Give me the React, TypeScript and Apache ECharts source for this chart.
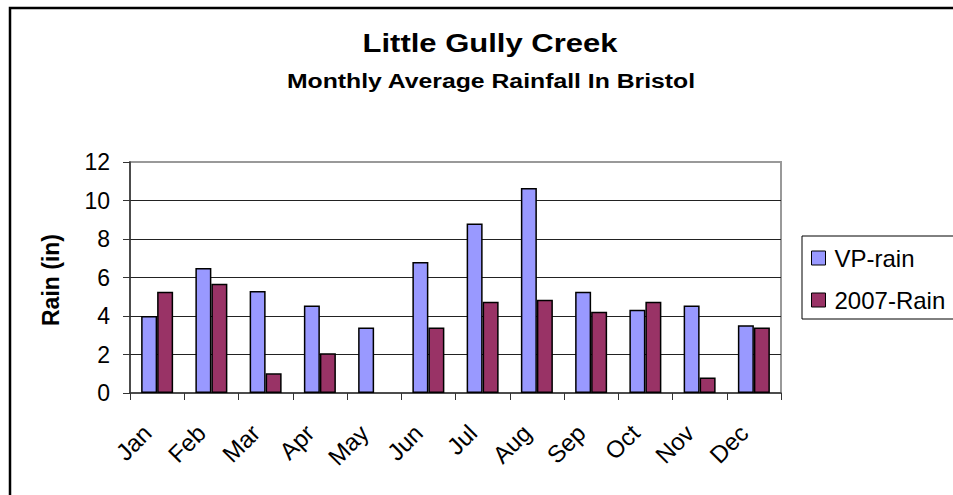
import React, { useEffect, useRef } from "react";
import * as echarts from "echarts";

const months = ["Jan", "Feb", "Mar", "Apr", "May", "Jun", "Jul", "Aug", "Sep", "Oct", "Nov", "Dec"];
const vpRain = [4.0, 6.5, 5.3, 4.55, 3.4, 6.8, 8.8, 10.65, 5.26, 4.33, 4.54, 3.52];
const rain2007 = [5.26, 5.68, 1.02, 2.06, null, 3.4, 4.74, 4.85, 4.22, 4.74, 0.8, 3.4];
const yTicks = { min: 0, max: 12, interval: 2 };
const chartTitle = "Little Gully Creek";
const chartSubtitle = "Monthly Average Rainfall In Bristol";
const yName = "Rain (in)";

const FONT = '"Liberation Sans", Arial, sans-serif';

export default function App() {
  const ref = useRef<HTMLDivElement>(null);
  useEffect(() => {
    if (!ref.current) return;
    const chart = echarts.init(ref.current, null, { renderer: "svg" });
    chart.setOption({
      animation: false,
      backgroundColor: "#fff",
      textStyle: { fontFamily: FONT },
      graphic: [
        {
          type: "rect",
          shape: { x: 10, y: 8, width: 1000, height: 600 },
          style: { fill: "none", stroke: "#000", lineWidth: 2.5 },
          silent: true,
        },
        {
          type: "text",
          x: 490,
          y: 44,
          scaleX: 1.24,
          style: {
            text: chartTitle,
            fontSize: 25,
            fontWeight: "bold",
            fontFamily: FONT,
            fill: "#000",
            align: "center",
            verticalAlign: "middle",
          },
        },
        {
          type: "text",
          x: 491,
          y: 81,
          scaleX: 1.18,
          style: {
            text: chartSubtitle,
            fontSize: 21,
            fontWeight: "bold",
            fontFamily: FONT,
            fill: "#000",
            align: "center",
            verticalAlign: "middle",
          },
        },
        {
          type: "text",
          x: 51,
          y: 280,
          rotation: Math.PI / 2,
          style: {
            text: yName,
            fontSize: 23,
            fontWeight: "bold",
            fontFamily: FONT,
            fill: "#000",
            align: "center",
            verticalAlign: "middle",
          },
        },
      ],
      legend: {
        orient: "vertical",
        left: 802,
        top: 236,
        itemWidth: 14,
        itemHeight: 14,
        itemGap: 18,
        icon: "rect",
        padding: [10, 30, 7, 9],
        borderColor: "#000",
        borderWidth: 1,
        itemStyle: { borderColor: "#000", borderWidth: 1 },
        textStyle: { fontSize: 24, color: "#000", fontFamily: FONT, padding: [0, 0, 0, 4] },
        data: ["VP-rain", "2007-Rain"],
      },
      grid: {
        left: 130,
        right: 172,
        top: 162,
        bottom: 102,
        show: true,
        borderColor: "#999",
        borderWidth: 2,
        backgroundColor: "transparent",
      },
      xAxis: {
        type: "category",
        data: months,
        boundaryGap: true,
        axisLine: { show: true, lineStyle: { color: "#333", width: 1.5 } },
        axisTick: { show: true, alignWithLabel: false, length: 7, lineStyle: { color: "#333" } },
        axisLabel: {
          rotate: 45,
          fontSize: 24,
          color: "#000",
          margin: 26,
          padding: [0, 14, 0, 0],
          fontFamily: FONT,
        },
        splitLine: { show: false },
      },
      yAxis: {
        type: "value",
        min: yTicks.min,
        max: yTicks.max,
        interval: yTicks.interval,
        axisLine: { show: true, lineStyle: { color: "#333", width: 1.5 } },
        axisTick: { show: true, length: 7, lineStyle: { color: "#333" } },
        axisLabel: { fontSize: 23, color: "#000", margin: 20, fontFamily: FONT },
        splitLine: { show: true, showMinLine: false, showMaxLine: false, lineStyle: { color: "#222", width: 1 } },
      },
      series: [
        {
          name: "VP-rain",
          type: "bar",
          data: vpRain,
          barWidth: 16,
          barGap: "0%",
          itemStyle: { color: "#9999FF", borderColor: "#000", borderWidth: 1.5 },
        },
        {
          name: "2007-Rain",
          type: "bar",
          data: rain2007,
          barWidth: 16,
          barGap: "0%",
          itemStyle: { color: "#993366", borderColor: "#000", borderWidth: 1.5 },
        },
      ],
    });
    return () => chart.dispose();
  }, []);
  return (
    <div
      ref={ref}
      style={{ position: "fixed", left: 0, top: 0, width: 953, height: 495, background: "#fff" }}
    />
  );
}
